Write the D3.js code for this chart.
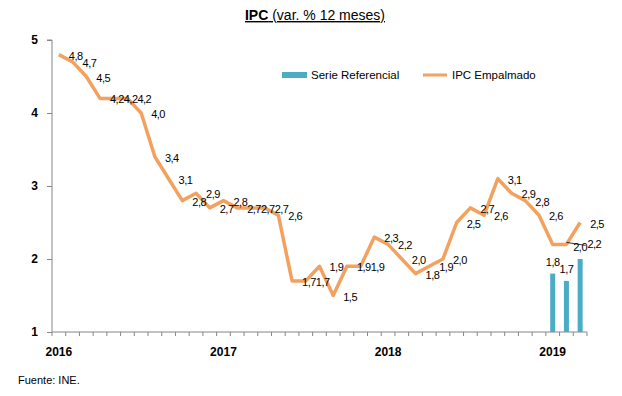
<!DOCTYPE html>
<html lang="es">
<head>
<meta charset="UTF-8">
<title>IPC (var. % 12 meses)</title>
<script src="https://d3js.org/d3.v7.min.js"></script>
<style>
    body { margin: 0; background: #fff; }
    svg { display: block; font-family: "Liberation Sans", Arial, sans-serif; }
    .axis path, .axis line { stroke: #868686; }
    .axis text { font-weight: bold; font-size: 12px; fill: #000; }
    .lbl { font-size: 11px; fill: #000; letter-spacing: -0.5px; }
</style>
</head>
<body>
<div id="chart"></div>
<script>
    // monthly categories, Jan 2016 - Mar 2019
    const categories = [
        "2016-01","2016-02","2016-03","2016-04","2016-05","2016-06","2016-07","2016-08","2016-09","2016-10","2016-11","2016-12",
        "2017-01","2017-02","2017-03","2017-04","2017-05","2017-06","2017-07","2017-08","2017-09","2017-10","2017-11","2017-12",
        "2018-01","2018-02","2018-03","2018-04","2018-05","2018-06","2018-07","2018-08","2018-09","2018-10","2018-11","2018-12",
        "2019-01","2019-02","2019-03"
    ];
    const ipcEmpalmado = [
        4.8, 4.7, 4.5, 4.2, 4.2, 4.2, 4.0, 3.4, 3.1, 2.8, 2.9, 2.7,
        2.8, 2.7, 2.7, 2.7, 2.6, 1.7, 1.7, 1.9, 1.5, 1.9, 1.9, 2.3,
        2.2, 2.0, 1.8, 1.9, 2.0, 2.5, 2.7, 2.6, 3.1, 2.9, 2.8, 2.6,
        2.2, 2.2, 2.5
    ];
    const refCategories = ["2019-01", "2019-02", "2019-03"];
    const serieReferencial = [1.8, 1.7, 2.0];
    const yearTicks = ["2016-01", "2017-01", "2018-01", "2019-01"];
    const yTicks = [1, 2, 3, 4, 5];

    const width = 622, height = 396;
    const fmt = v => d3.format(".1f")(v).replace(".", ",");

    const svg = d3.select("#chart").append("svg")
        .attr("width", width)
        .attr("height", height);

    const x = d3.scaleBand().domain(categories).range([52, 587]).padding(0);
    const y = d3.scaleLinear().domain([1, 5]).range([332, 40]);
    const cx = c => x(c) + x.bandwidth() / 2;

    // title
    const title = svg.append("text")
        .attr("x", 315).attr("y", 20)
        .attr("text-anchor", "middle")
        .attr("font-size", 14)
        .attr("text-decoration", "underline");
    title.append("tspan").attr("font-weight", "bold").text("IPC");
    title.append("tspan").text(" (var. % 12 meses)");

    // y axis
    svg.append("g")
        .attr("class", "axis")
        .attr("transform", "translate(52,0)")
        .call(d3.axisLeft(y).tickValues(yTicks).tickFormat(d3.format("d")).tickSize(5).tickPadding(9))
        .call(g => g.select(".domain").attr("d", `M-5,${y(5)}H0V${y(1)}`));

    // x axis: ticks at month boundaries, labels in January
    const xAxis = svg.append("g")
        .attr("class", "axis")
        .attr("transform", `translate(0,${y(1)})`);
    xAxis.append("line")
        .attr("x1", 52).attr("x2", 587)
        .attr("stroke", "#868686");
    xAxis.selectAll(".tk")
        .data(categories.concat(["end"]))
        .join("line")
        .attr("class", "tk")
        .attr("x1", (d, i) => 52 + i * x.bandwidth())
        .attr("x2", (d, i) => 52 + i * x.bandwidth())
        .attr("y1", 0).attr("y2", 4)
        .attr("stroke", "#868686");
    xAxis.selectAll(".yr")
        .data(yearTicks)
        .join("text")
        .attr("class", "yr")
        .attr("x", d => cx(d))
        .attr("y", 24)
        .attr("text-anchor", "middle")
        .text(d => d.slice(0, 4));

    // bars: serie referencial
    const bw = 5;
    svg.append("g")
        .selectAll("rect")
        .data(refCategories)
        .join("rect")
        .attr("x", d => cx(d) - bw / 2)
        .attr("width", bw)
        .attr("y", (d, i) => y(serieReferencial[i]))
        .attr("height", (d, i) => y(1) - y(serieReferencial[i]))
        .attr("fill", "#4BACC6");

    // line: IPC empalmado
    const line = d3.line()
        .x((d, i) => cx(categories[i]))
        .y(d => y(d));
    svg.append("path")
        .datum(ipcEmpalmado)
        .attr("d", line)
        .attr("fill", "none")
        .attr("stroke", "#F2A15F")
        .attr("stroke-width", 3.5)
        .attr("stroke-linejoin", "round");

    // line labels (right of point); Jan 2019 hidden, Feb 2019 moved out with a leader
    const hidden = new Set([36]);
    const moved = 37;
    svg.append("g")
        .selectAll("text")
        .data(ipcEmpalmado.map((v, i) => ({ v, i })).filter(d => !hidden.has(d.i)))
        .join("text")
        .attr("class", "lbl")
        .attr("x", d => cx(categories[d.i]) + (d.i === moved ? 21 : 10))
        .attr("y", d => y(d.v) + (d.i === moved ? 4 : 5))
        .text(d => fmt(d.v));
    svg.append("line")
        .attr("x1", cx(categories[moved]))
        .attr("y1", y(ipcEmpalmado[moved]) - 2)
        .attr("x2", cx(categories[moved]) + 19)
        .attr("y2", y(ipcEmpalmado[moved]) + 1)
        .attr("stroke", "#000")
        .attr("stroke-width", 0.8);

    // bar labels
    svg.append("g")
        .selectAll("text")
        .data(refCategories)
        .join("text")
        .attr("class", "lbl")
        .attr("x", d => cx(d))
        .attr("y", (d, i) => y(serieReferencial[i]) - 8)
        .attr("text-anchor", "middle")
        .text((d, i) => fmt(serieReferencial[i]));

    // legend
    const legend = svg.append("g").attr("font-size", 11.5);
    legend.append("rect")
        .attr("x", 282).attr("y", 72).attr("width", 25).attr("height", 6)
        .attr("fill", "#4BACC6");
    legend.append("text").attr("x", 311).attr("y", 79).text("Serie Referencial");
    legend.append("line")
        .attr("x1", 423).attr("x2", 447).attr("y1", 75).attr("y2", 75)
        .attr("stroke", "#F2A15F").attr("stroke-width", 3);
    legend.append("text").attr("x", 452).attr("y", 79).text("IPC Empalmado");

    // source
    svg.append("text")
        .attr("x", 18).attr("y", 384)
        .attr("font-size", 11)
        .text("Fuente: INE.");
</script>
</body>
</html>
